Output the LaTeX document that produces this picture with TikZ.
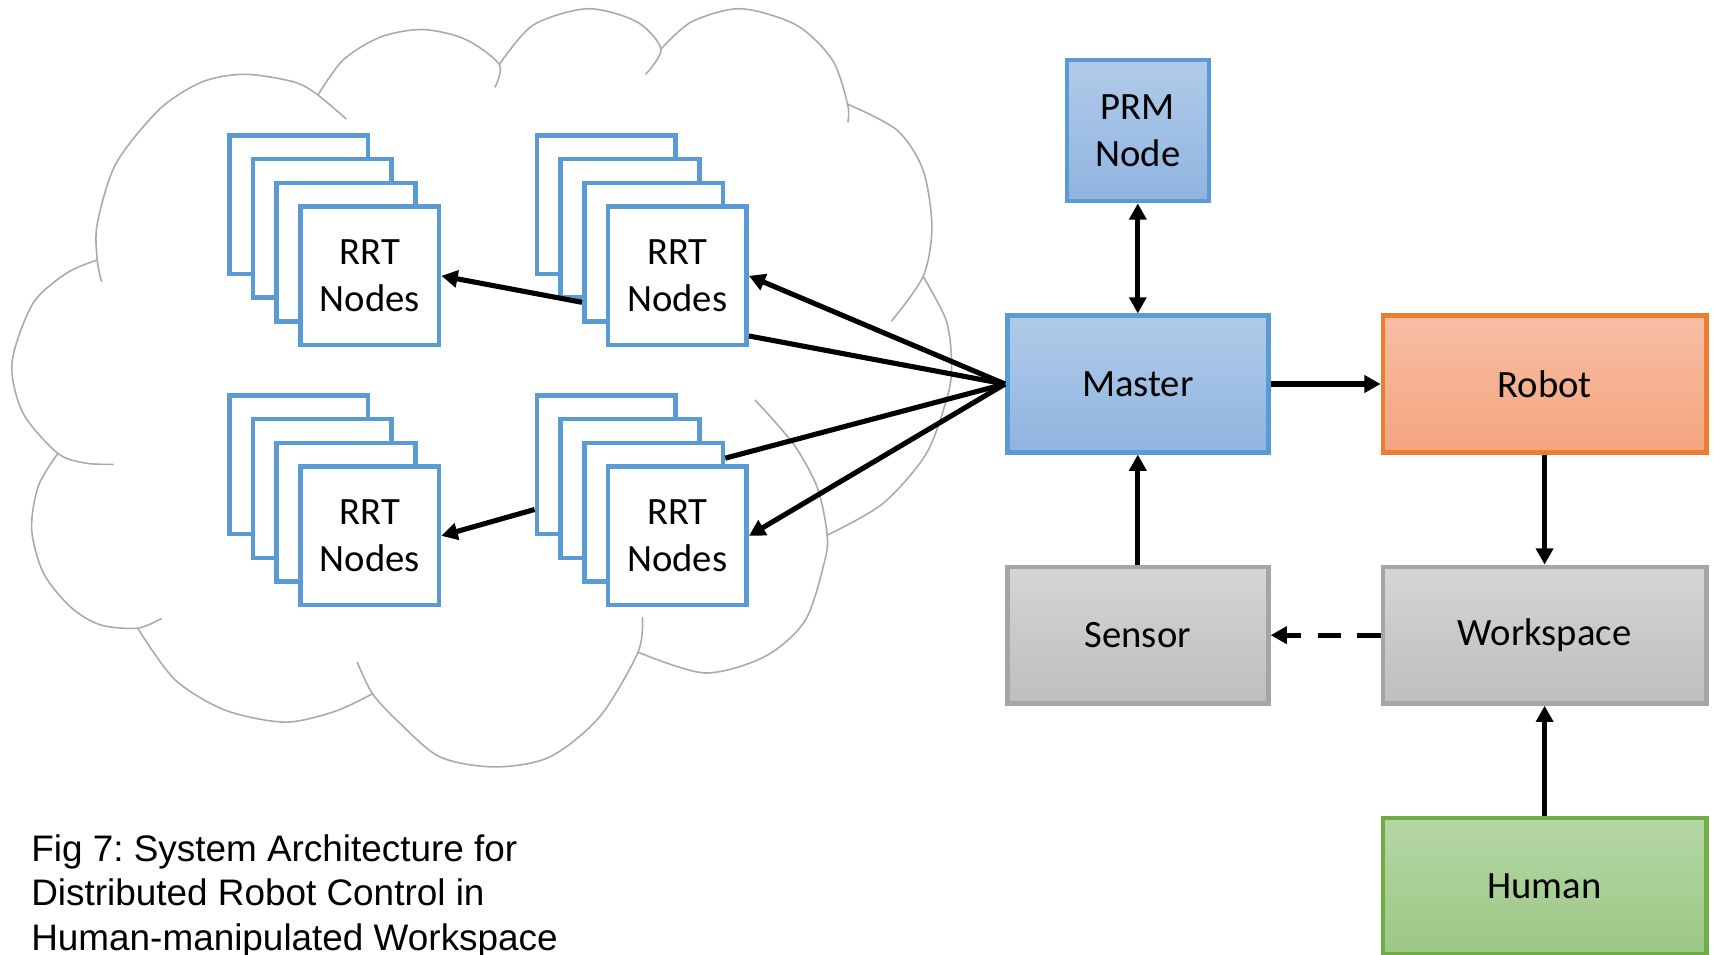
\documentclass[tikz,border=0pt]{standalone}
\usepackage{fontspec}
\setmainfont{Carlito}
\newfontfamily\capfont{Liberation Sans}
\usetikzlibrary{positioning,arrows.meta}
\frenchspacing

\definecolor{rrtblue}{RGB}{91,155,213}
\definecolor{bluetop}{RGB}{177,203,233}
\definecolor{bluebot}{RGB}{143,180,224}
\definecolor{orangeline}{RGB}{237,125,49}
\definecolor{orangetop}{RGB}{247,190,164}
\definecolor{orangebot}{RGB}{244,165,126}
\definecolor{grayline}{RGB}{165,165,165}
\definecolor{graytop}{RGB}{213,213,213}
\definecolor{graybot}{RGB}{190,190,190}
\definecolor{greenline}{RGB}{112,173,71}
\definecolor{greentop}{RGB}{181,214,165}
\definecolor{greenbot}{RGB}{156,200,133}
\definecolor{cloudgray}{RGB}{170,170,170}

\tikzset{
  box/.style={draw, line width=1.3pt, minimum width=2.611cm, minimum height=1.366cm,
    align=center, font=\fontsize{11}{13.4}\selectfont},
  widebox/.style={minimum width=3.234cm},
  bluebox/.style={box, draw=rrtblue, top color=bluetop, bottom color=bluebot},
  orangebox/.style={box, widebox, draw=orangeline, top color=orangetop, bottom color=orangebot},
  graybox/.style={box, draw=grayline, top color=graytop, bottom color=graybot},
  greenbox/.style={box, widebox, draw=greenline, top color=greentop, bottom color=greenbot},
  rrtbox/.style={box, draw=rrtblue, fill=white, minimum width=1.387cm, minimum height=1.387cm},
  cloudline/.style={draw=cloudgray, line width=0.45pt},
  conn/.style={line width=1.45pt, -{Triangle[length=4.6pt,width=4.8pt]}},
  biconn/.style={line width=1.45pt, {Triangle[length=4.6pt,width=4.8pt]}-{Triangle[length=4.6pt,width=4.8pt]}},
  plain/.style={line width=1.45pt},
  dashconn/.style={conn, dash pattern=on 6.6pt off 4.75pt}
}

% stack of RRT boxes: name, x, y of the front box
\newcommand{\rrtstack}[3]{%
  \foreach \k in {3,2,1}
    \node[rrtbox] (#1\k) at ([shift={(-\k*21.7,-\k*21.7)}]#2,#3) {};
  \node[rrtbox] (#1) at (#2,#3) {RRT\\Nodes};
}

\begin{document}
\begin{tikzpicture}[x=0.010925cm, y=-0.010925cm, node distance=1.1cm]
  \useasboundingbox (0,0) rectangle (1568,874);

  % Cloud
  \draw[cloudline] plot[smooth] coordinates {(93,258) (89,238) (89,205) (106,150) (146,100) (185,75) (224,68) (269,75) (291,87) (317,109)};
  \draw[cloudline] plot[smooth] coordinates {(291,87) (314,55) (348,34) (387,27) (426,36) (457,59) (453,80)};
  \draw[cloudline] plot[smooth] coordinates {(457,59) (488,23) (538,8) (583,20) (605,45) (591,68)};
  \draw[cloudline] plot[smooth] coordinates {(605,45) (633,20) (678,8) (729,23) (762,55) (776,96) (776,112)};
  \draw[cloudline] plot[smooth] coordinates {(775,95) (821,119) (845,156) (853,208) (845,253) (816,294)};
  \draw[cloudline] plot[smooth] coordinates {(845,253) (866,293) (871,330) (868,360) (848,415) (808,461) (757,490)};
  \draw[cloudline] plot[smooth] coordinates {(691,366) (726,406) (748,446) (757,488) (755,513) (737,568) (700,601) (645,616) (584,597)};
  \draw[cloudline] plot[smooth] coordinates {(588,565) (584,597) (549,656) (503,693) (453,702) (403,693) (366,662) (341,635) (327,606)};
  \draw[cloudline] plot[smooth] coordinates {(341,635) (307,651) (261,661) (206,650) (160,622) (126,575)};
  \draw[cloudline] plot[smooth] coordinates {(148,566) (126,575) (92,572) (65,556) (40,525) (29,485) (35,445) (53,415)};
  \draw[cloudline] plot[smooth] coordinates {(104,425) (79,424) (53,415) (21,378) (11,332) (30,278) (61,250) (89,238)};

  % RRT stacks
  \rrtstack{rrtA}{338.5}{252.5}
  \rrtstack{rrtB}{620}{252.5}
  \rrtstack{rrtC}{338.5}{490.5}
  \rrtstack{rrtD}{620}{490.5}

  % Main blocks
  \node[bluebox] (master) at (1041.5,351.5) {Master};
  \node[bluebox, minimum width=1.42cm, minimum height=1.41cm, above=of master] (prm) {PRM\\Node};
  \node[orangebox, right=of master] (robot) {Robot};
  \node[graybox, below=of master] (sensor) {Sensor};
  \node[graybox, widebox, below=of robot] (workspace) {Workspace};
  \node[greenbox, below=of workspace] (human) {Human};

  % Connections
  \draw[conn] (master.west) -- (rrtB.east);
  \draw[plain] (rrtB.-40) -- (master.west);
  \draw[plain] (rrtD1.37) -- (master.west);
  \draw[conn] (master.west) -- (rrtD.east);
  \draw[conn] (rrtB1.215) -- (rrtA.east);
  \draw[conn] (rrtD3.212) -- (rrtC.east);

  \draw[biconn] (prm) -- (master);
  \draw[conn] (master) -- (robot);
  \draw[conn] (sensor) -- (master);
  \draw[conn] (robot) -- (workspace);
  \draw[dashconn] (workspace) -- (sensor);
  \draw[conn] (human) -- (workspace);

  % Caption
  \node[anchor=north west, inner sep=0pt, align=left,
    font=\capfont\fontsize{10.5}{12.7}\selectfont] (caption) at (28,763)
    {Fig 7: System Architecture for\\Distributed Robot Control in\\Human-manipulated Workspace};
\end{tikzpicture}
\end{document}
